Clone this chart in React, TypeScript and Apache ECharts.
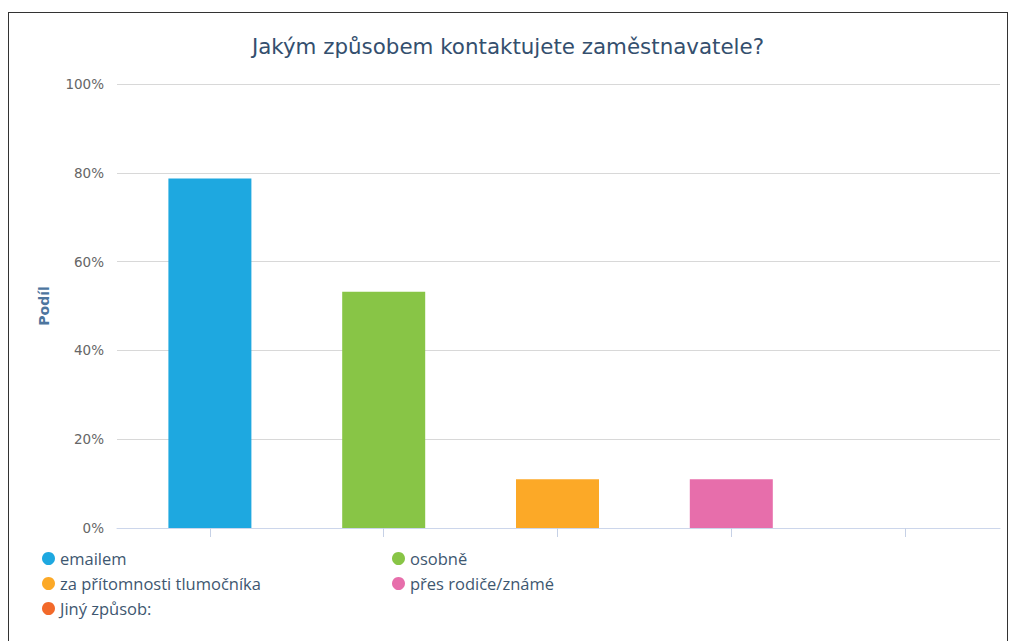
import React, { useEffect, useRef } from "react";
import * as echarts from "echarts";

const categories = ["emailem", "osobně", "za přítomnosti tlumočníka", "přes rodiče/známé", "Jiný způsob:"];
const values = [78.7, 53.2, 11.0, 11.0, 0];
const colors = ["#1ea8e0", "#88c546", "#fca927", "#e76eab", "#f2692a"];
const yTicks = [0, 20, 40, 60, 80, 100];
const legendLeft = ["emailem", "za přítomnosti tlumočníka", "Jiný způsob:"];
const legendRight = ["osobně", "přes rodiče/známé"];

export default function App() {
  const ref = useRef<HTMLDivElement>(null);
  useEffect(() => {
    if (!ref.current) return;
    const chart = echarts.init(ref.current, undefined, { renderer: "svg" });
    const series: any[] = categories.map((name, i) => ({
      name,
      type: "bar",
      stack: "all",
      xAxisIndex: 0,
      yAxisIndex: 0,
      barWidth: 83,
      itemStyle: { color: colors[i] },
      data: categories.map((_, j) => (j === i ? values[i] : "-")),
    }));
    const legendCommon = {
      orient: "vertical",
      icon: "circle",
      itemWidth: 13,
      itemHeight: 13,
      itemGap: 8,
      textStyle: {
        fontFamily: "Open Sans",
        fontSize: 16.5,
        color: "#3e5770",
        padding: [0, 0, 0, 0],
      },
    };
    chart.setOption({
      animation: false,
      title: {
        text: "Jakým způsobem kontaktujete zaměstnavatele?",
        left: "center",
        top: 18,
        textStyle: { fontFamily: "DejaVu Sans", fontSize: 21.4, fontWeight: "normal", color: "#344f6e" },
      },
      legend: [
        { ...legendCommon, left: 28, top: 532, data: legendLeft },
        { ...legendCommon, left: 378, top: 532, data: legendRight },
      ],
      grid: [
        { left: 114, right: 15, top: 71, bottom: 113 },
        { left: 108, right: 7, top: 71, bottom: 113 },
      ],
      xAxis: [
        {
          type: "category",
          gridIndex: 0,
          data: categories,
          axisLine: { show: false },
          axisTick: {
            show: true,
            interval: () => true,
            alignWithLabel: true,
            length: 9,
            lineStyle: { color: "#c6d1e6", width: 1 },
          },
          axisLabel: { show: true, interval: 0, color: "transparent", formatter: () => "" },
        },
        {
          type: "category",
          gridIndex: 1,
          data: categories,
          axisLine: { show: true, lineStyle: { color: "#ccd6eb" } },
          axisTick: { show: false },
          axisLabel: { show: false },
        },
      ],
      yAxis: [
        {
          type: "value",
          gridIndex: 0,
          min: yTicks[0],
          max: yTicks[yTicks.length - 1],
          interval: 20,
          show: false,
          splitLine: { show: false },
        },
        {
          type: "value",
          gridIndex: 1,
          min: yTicks[0],
          max: yTicks[yTicks.length - 1],
          interval: 20,
          name: "Podíl",
          nameLocation: "middle",
          nameGap: 66,
          nameTextStyle: { fontFamily: "DejaVu Sans", fontSize: 14, fontWeight: "bold", color: "#4d759e" },
          axisLabel: {
            formatter: "{value}%",
            margin: 13,
            fontFamily: "DejaVu Sans",
            fontSize: 13.5,
            color: "#666666",
          },
          axisLine: { show: false },
          axisTick: { show: false },
          splitLine: { show: true, lineStyle: { color: "#d8d8d8", width: 1 } },
        },
      ],
      series,
    });
    return () => chart.dispose();
  }, []);
  return (
    <div
      style={{
        position: "absolute",
        left: 8,
        top: 12,
        width: 998,
        height: 640,
        border: "1px solid #333",
        borderBottom: "none",
        background: "#fff",
      }}
    >
      <div ref={ref} style={{ width: 998, height: 628 }} />
    </div>
  );
}
